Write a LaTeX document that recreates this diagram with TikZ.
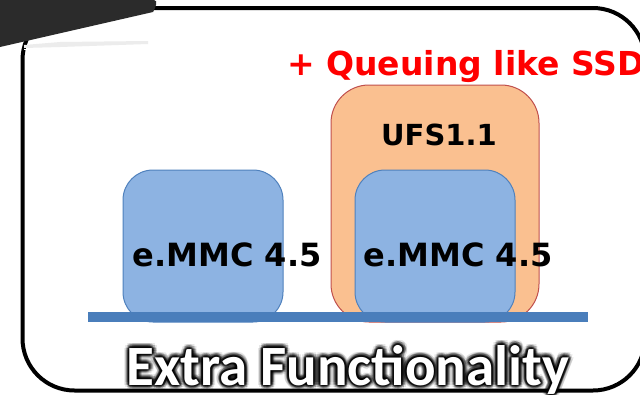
\documentclass[tikz,border=0pt]{standalone}
\usepackage{fontspec}
\newfontfamily\dejavu{DejaVu Sans}
\newfontfamily\carlito{Carlito}
\usetikzlibrary{calc}
\definecolor{boxblue}{HTML}{8DB3E2}
\definecolor{boxblueline}{HTML}{4F81BD}
\definecolor{barblue}{HTML}{4A7EBB}
\definecolor{ufsfill}{HTML}{FAC090}
\definecolor{ufsline}{HTML}{C0504D}
\definecolor{darkbar}{HTML}{2B2B2B}
\tikzset{
  chip/.style={draw=boxblueline, line width=1pt, fill=boxblue, rounded corners=30pt},
  lbl/.style={font=\dejavu\bfseries\fontsize{32}{32}\selectfont, inner sep=0pt, anchor=base},
  glowtext/.style={font=\carlito\bfseries\fontsize{57}{57}\selectfont, inner sep=0pt, anchor=base},
}
\begin{document}
\begin{tikzpicture}[x=1pt,y=-1pt]
\useasboundingbox (0,0) rectangle (640,394);
\fill[white] (0,0) rectangle (640,394);
% frame
\draw[line width=4pt, rounded corners=52pt] (22.5,200) -- (22.5,8) -- (645,8) -- (645,390.5) -- (22.5,390.5) -- cycle;
% top-left dark piece
\fill[darkbar] (0,0) -- (154,0) to[out=0,in=60] (153,12) -- (0,47) -- cycle;
\fill[gray!15] (24,45) -- (60,42) -- (148,41) -- (148,44) -- (60,47) -- (24,48) -- cycle;
\fill[white] (24,49) rectangle (30,50);
% blocks
\draw[chip] (123,170) rectangle (283,322);
\draw[draw=ufsline, line width=1pt, fill=ufsfill, rounded corners=38pt] (331,85) rectangle (539,322);
\draw[chip] (355,170) rectangle (515,322);
\fill[barblue] (88,312) rectangle (588,322);
% labels
\node[lbl] (mmcA) at (227,266) {e.MMC 4.5};
\node[lbl] (mmcB) at (458,266) {e.MMC 4.5};
\node[lbl, font=\dejavu\bfseries\fontsize{29}{29}\selectfont] (ufs) at (439,145) {UFS1.1};
\node[lbl, anchor=base west, text=red, font=\dejavu\bfseries\fontsize{33}{33}\selectfont] (queue) at (287,75) {+ Queuing like SSD};
% glow title
\foreach \a [count=\i] in {0,30,...,330}{
  \node[glowtext, text=black, opacity=0.10] (glowA\i) at ($(348,385)+(\a:5pt)$) {Extra Functionality};
  \node[glowtext, text=black, opacity=0.18] (glowB\i) at ($(348,385)+(\a+15:3.5pt)$) {Extra Functionality};
  \node[glowtext, text=black, opacity=0.30] (glowC\i) at ($(348,385)+(\a:2pt)$) {Extra Functionality};
}
\node[glowtext, text=white] (title) at (348,385) {Extra Functionality};
\end{tikzpicture}
\end{document}
